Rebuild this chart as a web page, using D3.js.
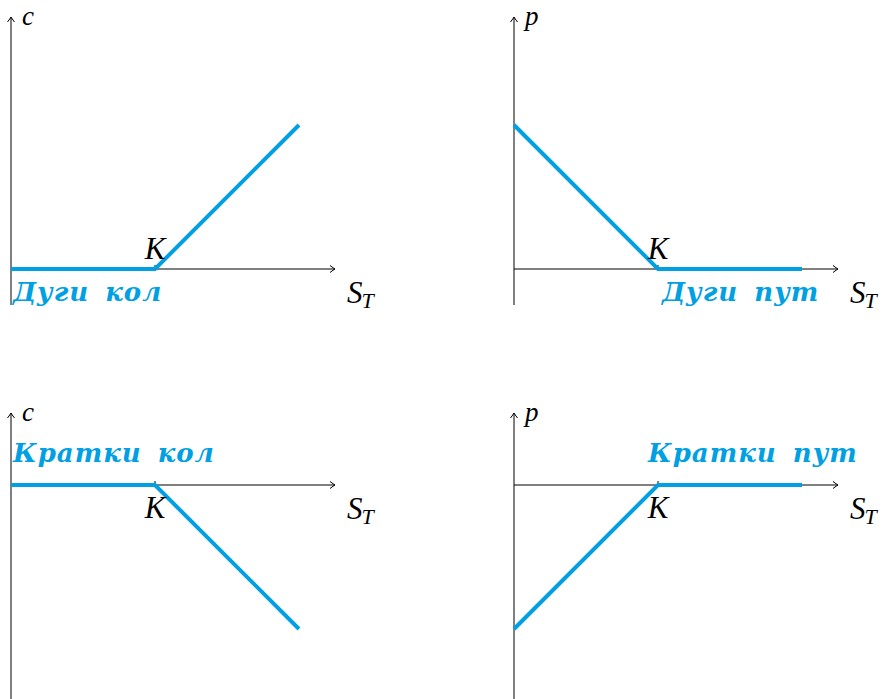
<!DOCTYPE html>
<html>
<head>
<meta charset="utf-8">
<script src="https://cdn.jsdelivr.net/npm/d3@7"></script>
<style>
  html, body { margin: 0; padding: 0; background: #fff; }
  svg { display: block; }
  .math { font-family: "Liberation Serif", "DejaVu Serif", serif; font-style: italic; }
  .lbl { font-family: "DejaVu Serif", "Liberation Serif", serif; font-style: italic; font-weight: bold; }
</style>
</head>
<body>
<svg id="chart" width="885" height="699"></svg>
<script>
// Payoff at expiry for the four basic option positions, strike K = 2
const strike = 2;
const spotPrices = [0, 2, 4];
const longCall  = [0, 0, 2];
const longPut   = [2, 0, 0];
const shortCall = [0, 0, -2];
const shortPut  = [-2, 0, 0];
const positionNames = ["Дуги кол", "Дуги пут", "Кратки кол", "Кратки пут"];
const yAxisNames = ["c", "p", "c", "p"];

const BLUE = "#00a0e3";
const UNIT = 72;

const panels = [
  { payoff: longCall,  col: 0, row: 0, yMin: -0.5, yMax: 3.5, kBelow: false },
  { payoff: longPut,   col: 1, row: 0, yMin: -0.5, yMax: 3.5, kBelow: false },
  { payoff: shortCall, col: 0, row: 1, yMin: -3.2, yMax: 1.0, kBelow: true },
  { payoff: shortPut,  col: 1, row: 1, yMin: -3.2, yMax: 1.0, kBelow: true }
];

const svg = d3.select("#chart");

function arrowHead(g, x, y, dir) {
  // small open arrow tip
  const L = 5, W = 3.5;
  let d;
  if (dir === "right") d = `M${x - L},${y - W} Q${x - 1.5},${y - 0.8} ${x},${y} Q${x - 1.5},${y + 0.8} ${x - L},${y + W}`;
  else d = `M${x - W},${y + L} Q${x - 0.8},${y + 1.5} ${x},${y} Q${x + 0.8},${y + 1.5} ${x + W},${y + L}`;
  g.append("path").attr("d", d).attr("fill", "none").attr("stroke", "#000").attr("stroke-width", 1);
}

panels.forEach((p, i) => {
  const ox = 11 + p.col * 503;
  const oy = 269 + p.row * 216;
  const x = d3.scaleLinear().domain([0, 4.5]).range([ox, ox + 4.5 * UNIT]);
  const y = d3.scaleLinear().domain([0, 1]).range([oy, oy - UNIT]);
  const g = svg.append("g");

  // axes
  g.append("line").attr("x1", x(0)).attr("x2", x(4.5)).attr("y1", y(0)).attr("y2", y(0))
    .attr("stroke", "#000").attr("stroke-width", 1);
  arrowHead(g, x(4.5), y(0), "right");
  g.append("line").attr("x1", x(0)).attr("x2", x(0)).attr("y1", y(p.yMin)).attr("y2", y(p.yMax))
    .attr("stroke", "#000").attr("stroke-width", 1);
  arrowHead(g, x(0), y(p.yMax), "up");

  // strike tick
  g.append("line").attr("x1", x(strike)).attr("x2", x(strike)).attr("y1", y(0)).attr("y2", y(0) - 4)
    .attr("stroke", "#000").attr("stroke-width", 1);

  // payoff line
  const line = d3.line().x((d, j) => x(spotPrices[j])).y(d => y(d));
  g.append("path").datum(p.payoff).attr("d", line)
    .attr("fill", "none").attr("stroke", BLUE).attr("stroke-width", 4)
    .attr("stroke-linejoin", "miter");

  // axis names
  g.append("text").attr("class", "math").attr("x", x(0) + 11).attr("y", y(p.yMax) + 8)
    .attr("font-size", 27).text(yAxisNames[i]);
  const st = g.append("text").attr("class", "math").attr("x", x(4.5) + 12).attr("y", y(0) + 34)
    .attr("font-size", 31);
  st.append("tspan").text("S");
  st.append("tspan").attr("font-size", 22).attr("dy", 5).attr("dx", -1).text("T");

  g.append("text").attr("class", "math").attr("x", x(strike)).attr("text-anchor", "middle")
    .attr("y", p.kBelow ? y(0) + 33 : y(0) - 10).attr("font-size", 31).text("K");

  // position name
  const nameX = p.col === 0 ? x(0) + 2 : (p.row === 0 ? x(strike) + 4 : x(strike) - 10);
  const nameY = p.row === 0 ? y(0) + 32 : y(0) - 23;
  g.append("text").attr("class", "lbl").attr("x", nameX).attr("y", nameY)
    .attr("font-size", 26).attr("fill", BLUE).attr("letter-spacing", 1).attr("word-spacing", 6)
    .text(positionNames[i]);
});
</script>
</body>
</html>
